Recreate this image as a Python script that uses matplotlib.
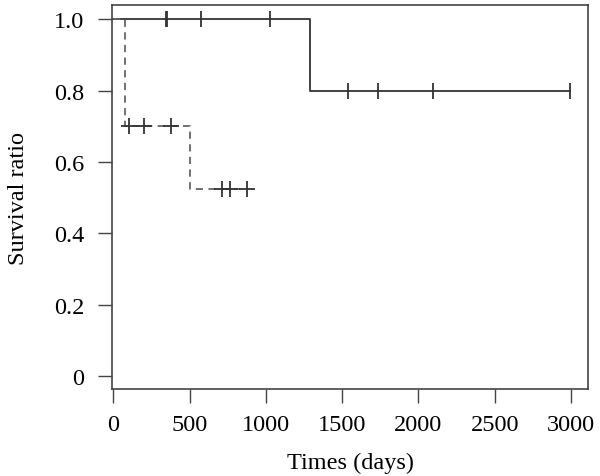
import matplotlib
matplotlib.use("Agg")
import matplotlib.pyplot as plt

# Kaplan-Meier step data
solid_t = [0, 1290, 2995]
solid_s = [1.0, 0.8, 0.8]
solid_cens_t = [345, 354, 576, 1028, 1540, 1733, 2093, 2995]
solid_cens_s = [1.0, 1.0, 1.0, 1.0, 0.8, 0.8, 0.8, 0.8]

dash_t = [0, 79, 504, 876]
dash_s = [1.0, 0.7, 0.525, 0.525]
dash_cens_t = [100, 199, 378, 712, 766, 876]
dash_cens_s = [0.7, 0.7, 0.7, 0.525, 0.525, 0.525]

x_ticks = [0, 500, 1000, 1500, 2000, 2500, 3000]
y_ticks = [0, 0.2, 0.4, 0.6, 0.8, 1.0]
y_labels = ["0", "0.2", "0.4", "0.6", "0.8", "1.0"]

plt.rcParams["font.family"] = ["Liberation Serif", "DejaVu Serif"]

fig = plt.figure(figsize=(6, 4.77), dpi=100)
ax = fig.add_axes([0.187, 0.182, 0.793, 0.805])

col = "#333333"
ax.step(solid_t, solid_s, where="post", color=col, lw=1.3)
ax.plot(solid_cens_t, solid_cens_s, ls="none", marker="|", ms=11, mew=1.3, color=col)
ax.step(dash_t, dash_s, where="post", color="#666666", lw=1.3, ls=(0, (4, 3)))
ax.plot(dash_cens_t, dash_cens_s, ls="none", marker="|", ms=11, mew=1.3, color=col)
# short horizontal bars of the "+" censor marks
ax.plot(dash_cens_t, dash_cens_s, ls="none", marker="_", ms=11, mew=1.3, color=col)

ax.set_xlim(-7, 3111)
ax.set_ylim(-0.036, 1.039)
ax.set_xticks(x_ticks)
ax.set_yticks(y_ticks)
ax.set_yticklabels(y_labels)
ax.tick_params(direction="out", length=10, width=1, color="#444444", labelsize=17.5)
ax.tick_params(axis="x", pad=8)
ax.tick_params(axis="y", pad=10)
for s in ax.spines.values():
    s.set_color("#444444")
    s.set_linewidth(1.2)

ax.set_xlabel("Times (days)", fontsize=17.5, labelpad=12)
ax.set_ylabel("Survival ratio", fontsize=17.5, labelpad=18)

fig.savefig("out.png", dpi=100)
